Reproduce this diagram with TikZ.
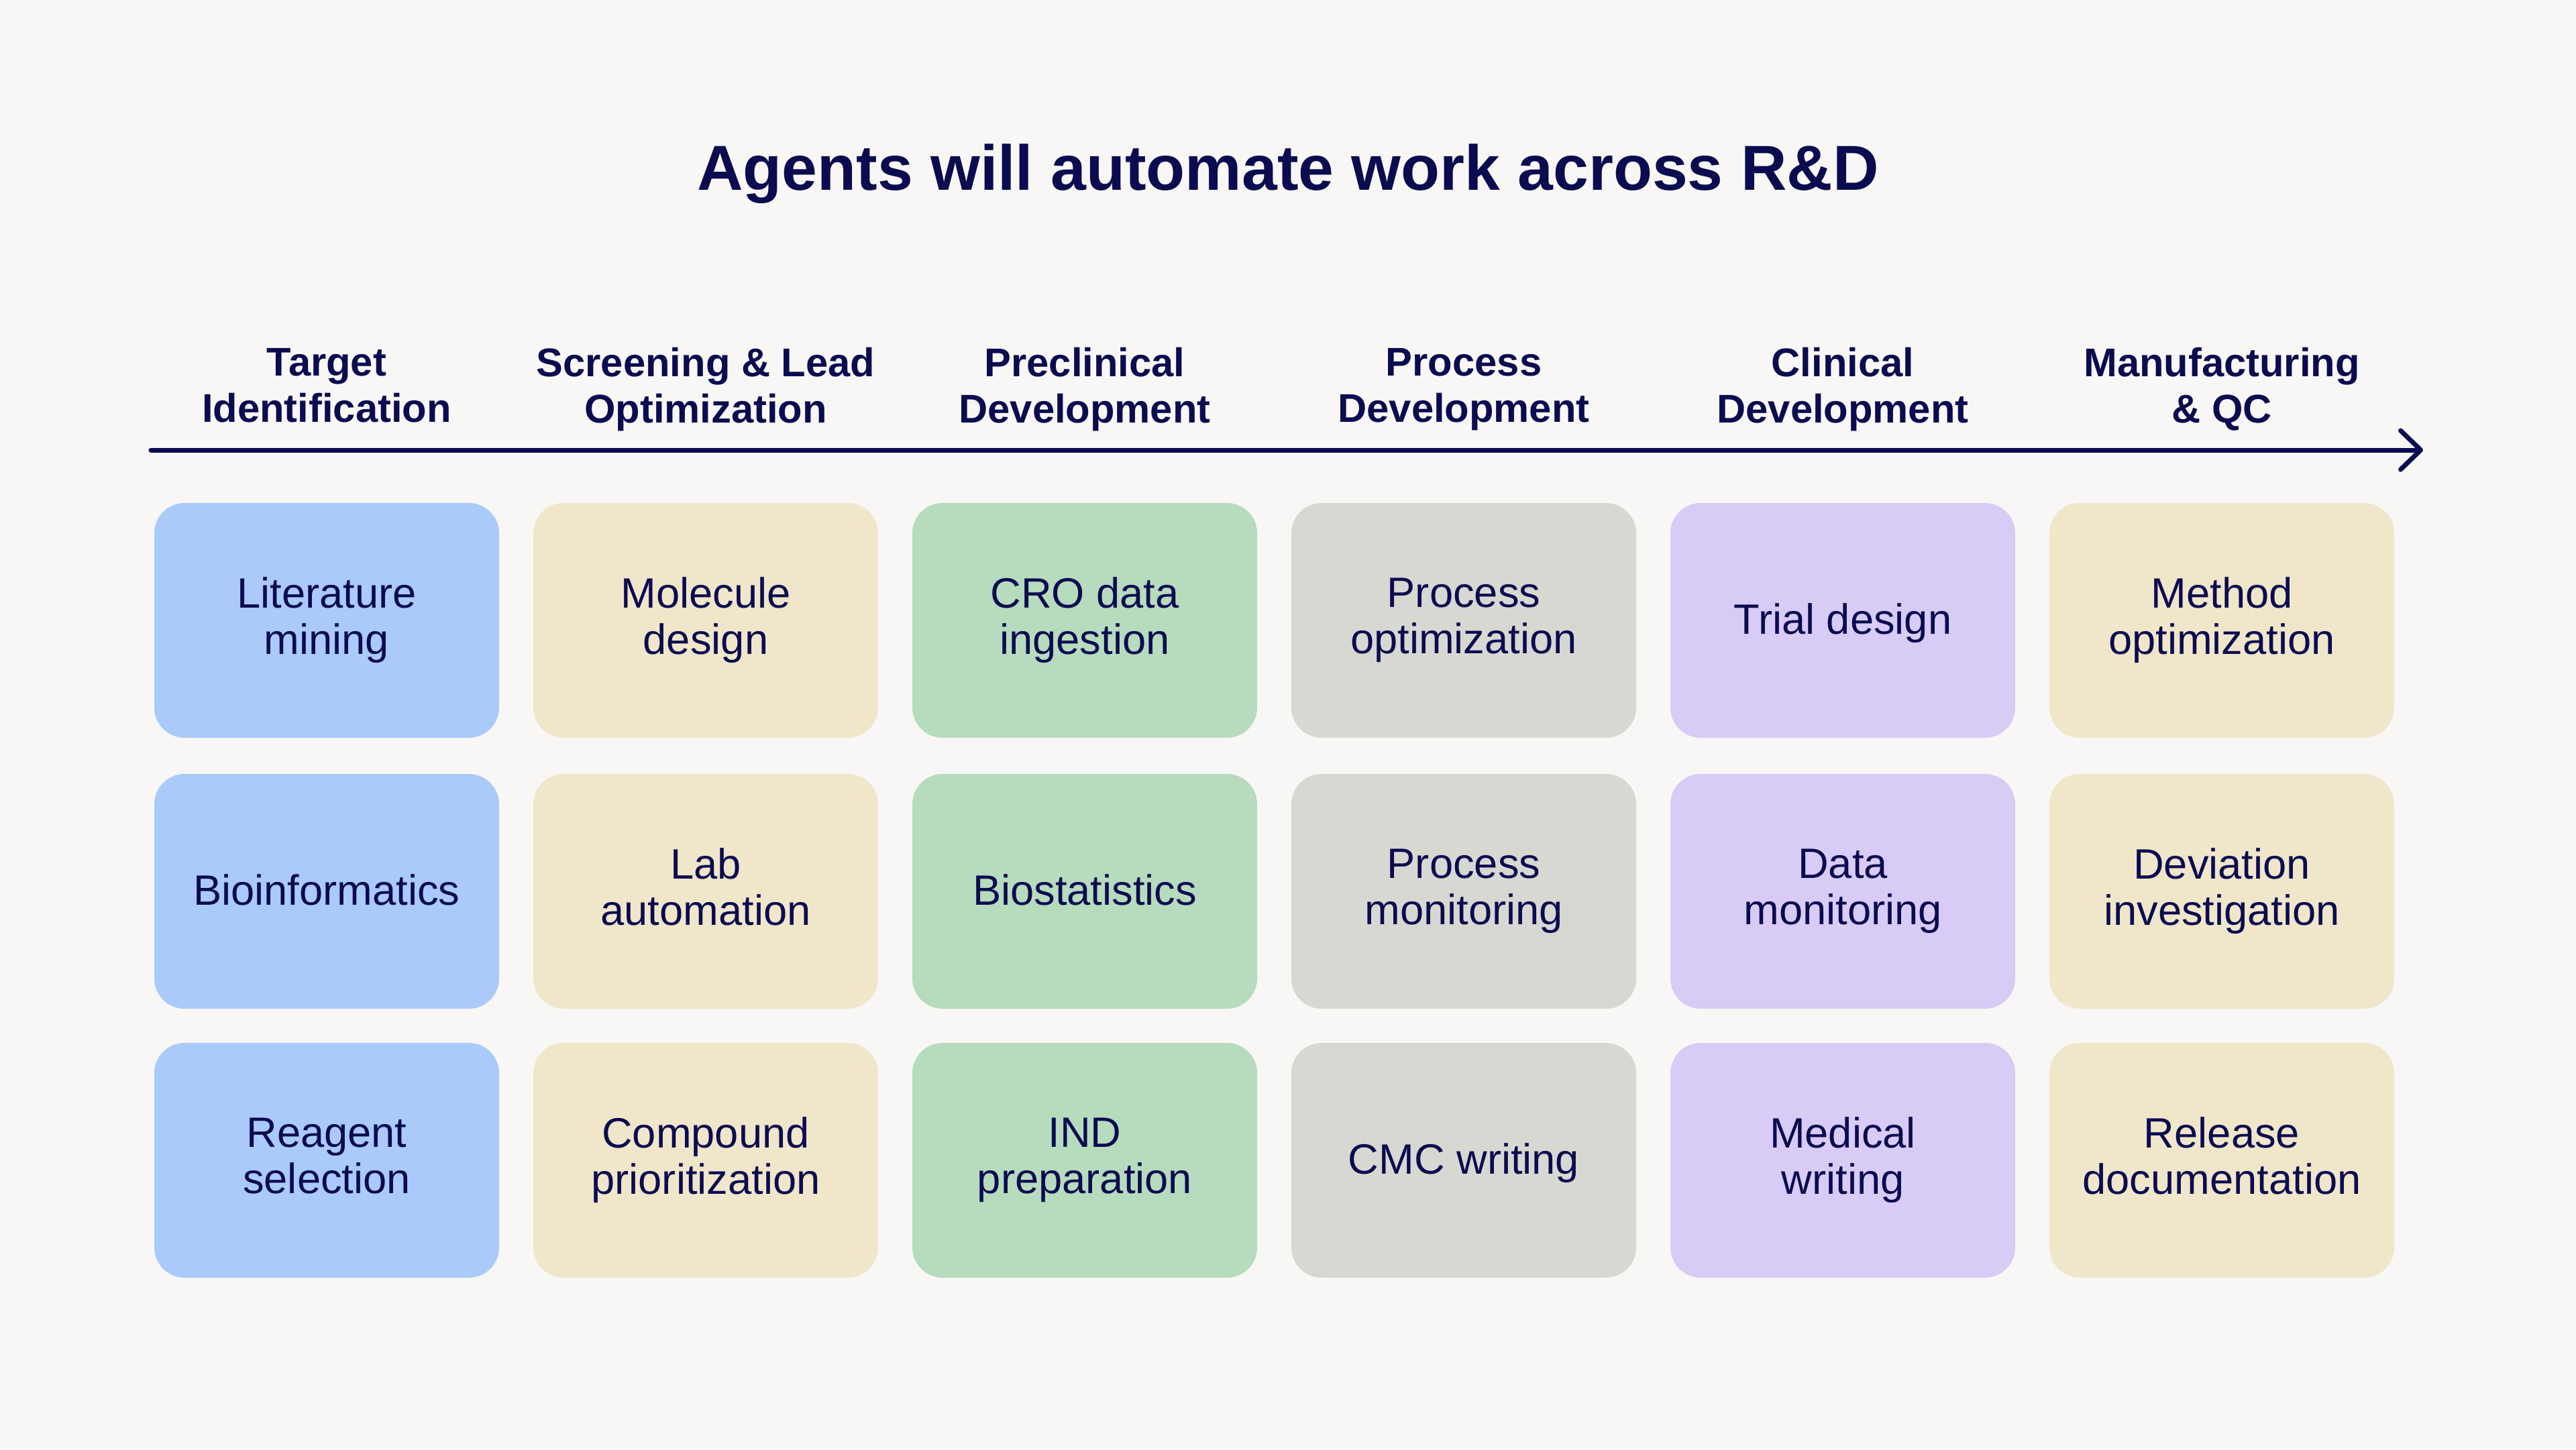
\documentclass[tikz,border=0pt]{standalone}
\usepackage{fontspec}
\setmainfont{Liberation Sans}
\usetikzlibrary{arrows.meta}

\definecolor{ink}{HTML}{0B0B50}
\definecolor{paper}{HTML}{F8F7F5}
\definecolor{targetblue}{HTML}{AACAFA}
\definecolor{screenbeige}{HTML}{F0E6CA}
\definecolor{preclingreen}{HTML}{B6DBBD}
\definecolor{processgrey}{HTML}{D8D8D2}
\definecolor{clinpurple}{HTML}{D8CBF5}

\newcommand{\taskstrut}{\rule[-3.9pt]{0pt}{19.6pt}}

\begin{document}
\begin{tikzpicture}[x=1cm,y=1cm,
        every node/.style={text=ink, inner sep=0pt},
        task/.style={rounded corners=0.45cm, minimum width=5.14cm, minimum height=3.5cm,
            align=center, font=\fontsize{18}{19.6}\selectfont,
            execute at begin node=\taskstrut, execute at end node=\taskstrut},
        phase/.style={align=center, font=\bfseries\fontsize{17}{19.6}\selectfont,
            execute at begin node=\strut, execute at end node=\strut},
        heading/.style={font=\bfseries\fontsize{27}{30}\selectfont}]
            \useasboundingbox (0,0) rectangle (38.4,-21.61);
            \fill [paper] (0,0) rectangle (38.4,-21.61);
            % title
            \node [heading, anchor=base] (title) at (19.2,-2.83) {Agents will automate work across R\&D};
            % phases along the timeline
            \node [phase] (ph1) at (4.87,-5.85) {Target\\Identification};
            \node [phase] (ph2) at (10.52,-5.85) {Screening \& Lead\\Optimization};
            \node [phase] (ph3) at (16.17,-5.85) {Preclinical\\Development};
            \node [phase] (ph4) at (21.82,-5.85) {Process\\Development};
            \node [phase] (ph5) at (27.47,-5.85) {Clinical\\Development};
            \node [phase] (ph6) at (33.12,-5.85) {Manufacturing\\\& QC};
            \coordinate (tl start) at (2.25,-6.71);
            \coordinate (tl end) at (36.12,-6.71);
            \draw [ink, line width=0.07cm, line cap=round,
                -{Straight Barb[length=0.3cm, width=0.58cm, line cap=round, line join=round]}]
                (tl start) -- (tl end);
            % target identification
            \node [task, fill=targetblue] (t1) at (4.87,-9.25) {Literature\\mining};
            \node [task, fill=targetblue] (t2) at (4.87,-13.29) {Bioinformatics};
            \node [task, fill=targetblue] (t3) at (4.87,-17.30) {Reagent\\selection};
            % screening and lead optimization
            \node [task, fill=screenbeige] (s1) at (10.52,-9.25) {Molecule\\design};
            \node [task, fill=screenbeige] (s2) at (10.52,-13.29) {Lab\\automation};
            \node [task, fill=screenbeige] (s3) at (10.52,-17.30) {Compound\\prioritization};
            % preclinical development
            \node [task, fill=preclingreen] (p1) at (16.17,-9.25) {CRO data\\ingestion};
            \node [task, fill=preclingreen] (p2) at (16.17,-13.29) {Biostatistics};
            \node [task, fill=preclingreen] (p3) at (16.17,-17.30) {IND\\preparation};
            % process development
            \node [task, fill=processgrey] (d1) at (21.82,-9.25) {Process\\optimization};
            \node [task, fill=processgrey] (d2) at (21.82,-13.29) {Process\\monitoring};
            \node [task, fill=processgrey] (d3) at (21.82,-17.30) {CMC writing};
            % clinical development
            \node [task, fill=clinpurple] (c1) at (27.47,-9.25) {Trial design};
            \node [task, fill=clinpurple] (c2) at (27.47,-13.29) {Data\\monitoring};
            \node [task, fill=clinpurple] (c3) at (27.47,-17.30) {Medical\\writing};
            % manufacturing and QC
            \node [task, fill=screenbeige] (m1) at (33.12,-9.25) {Method\\optimization};
            \node [task, fill=screenbeige] (m2) at (33.12,-13.29) {Deviation\\investigation};
            \node [task, fill=screenbeige] (m3) at (33.12,-17.30) {Release\\documentation};
        \end{tikzpicture}
\end{document}
